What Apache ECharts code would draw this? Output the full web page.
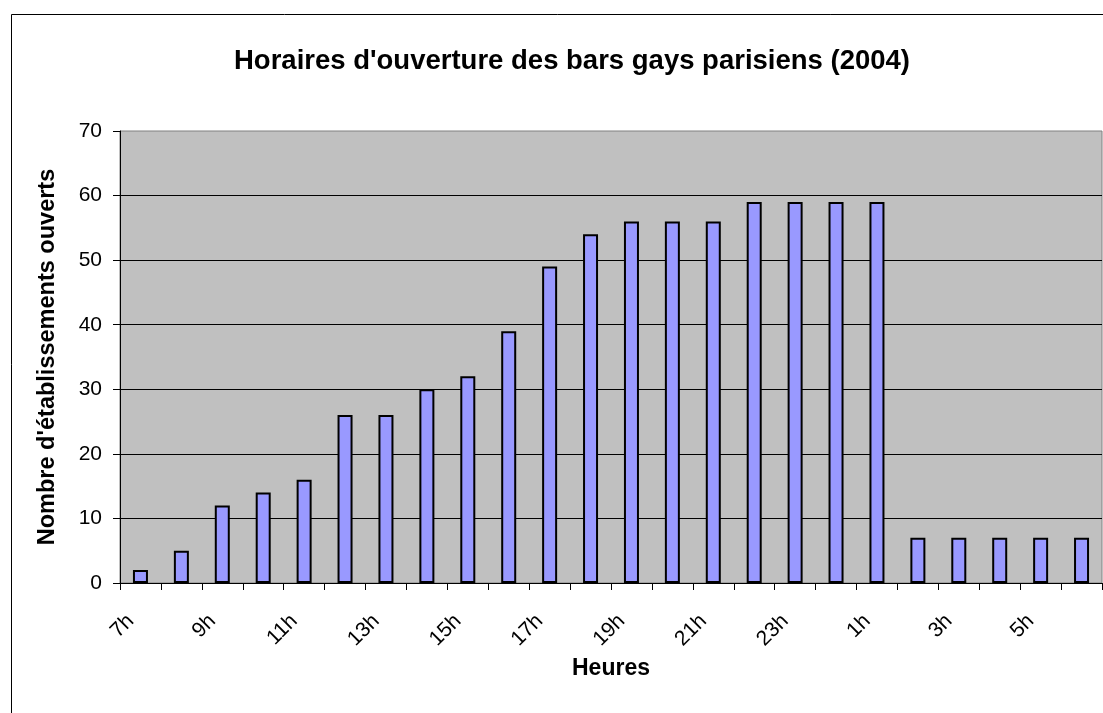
<!DOCTYPE html>
<html>
<head>
<meta charset="utf-8">
<script src="https://cdn.jsdelivr.net/npm/echarts@6/dist/echarts.min.js"></script>
<style>
  html, body { margin: 0; padding: 0; background: #fff; }
  #chart { width: 1103px; height: 713px; }
</style>
</head>
<body>
<div id="chart"></div>
<script>
// Heures de la journée (de 7h à 6h du matin)
const heures = ['7h','8h','9h','10h','11h','12h','13h','14h','15h','16h','17h','18h',
                '19h','20h','21h','22h','23h','0h','1h','2h','3h','4h','5h','6h'];
// Nombre d'établissements ouverts à chaque heure
const ouverts = [2, 5, 12, 14, 16, 26, 26, 30, 32, 39, 49, 54,
                 56, 56, 56, 59, 59, 59, 59, 7, 7, 7, 7, 7];
// Graduations de l'axe vertical
const yMin = 0, yMax = 70, yPas = 10;

const FONT = '"Liberation Sans", Arial, sans-serif';

const chart = echarts.init(document.getElementById('chart'), null, { renderer: 'canvas' });
chart.setOption({
  animation: false,
  backgroundColor: '#ffffff',
  textStyle: { fontFamily: FONT },
  graphic: [{
    type: 'rect',
    shape: { x: 11.5, y: 14.5, width: 1200, height: 800 },
    style: { fill: 'none', stroke: '#000', lineWidth: 1 },
    silent: true
  }],
  title: {
    text: "Horaires d'ouverture des bars gays parisiens (2004)",
    left: 567, top: 42, textAlign: 'center',
    textStyle: { fontFamily: FONT, fontSize: 27.5, fontWeight: 'bold', color: '#000' }
  },
  grid: {
    left: 120, top: 131, width: 982, height: 452,
    show: true, backgroundColor: '#C0C0C0', borderColor: '#808080', borderWidth: 1
  },
  xAxis: {
    type: 'category',
    data: heures,
    name: 'Heures',
    nameLocation: 'middle',
    nameGap: 57,
    nameTextStyle: { fontFamily: FONT, fontSize: 23, fontWeight: 'bold', color: '#000' },
    axisLine: { show: true, lineStyle: { color: '#000', width: 1 } },
    axisTick: { show: true, interval: 0, length: 7, alignWithLabel: false, lineStyle: { color: '#000' } },
    axisLabel: {
      interval: 1, rotate: 45, margin: 25, padding: [0, 14, 0, 0],
      fontFamily: FONT, fontSize: 21, color: '#000'
    },
    splitLine: { show: false }
  },
  yAxis: {
    type: 'value',
    min: yMin, max: yMax, interval: yPas,
    name: "Nombre d'établissements ouverts",
    nameLocation: 'middle',
    nameGap: 60,
    nameTextStyle: { fontFamily: FONT, fontSize: 23.5, fontWeight: 'bold', color: '#000' },
    axisLine: { show: true, lineStyle: { color: '#000', width: 1 } },
    axisTick: { show: true, length: 7, lineStyle: { color: '#000' } },
    axisLabel: { margin: 18, fontFamily: FONT, fontSize: 21, color: '#000' },
    splitLine: { show: true, showMaxLine: false, lineStyle: { color: '#000', width: 1 } }
  },
  series: [{
    type: 'bar',
    data: ouverts,
    barWidth: 15,
    itemStyle: { color: '#9999FF', borderColor: '#000', borderWidth: 2 }
  }]
});
</script>
</body>
</html>
